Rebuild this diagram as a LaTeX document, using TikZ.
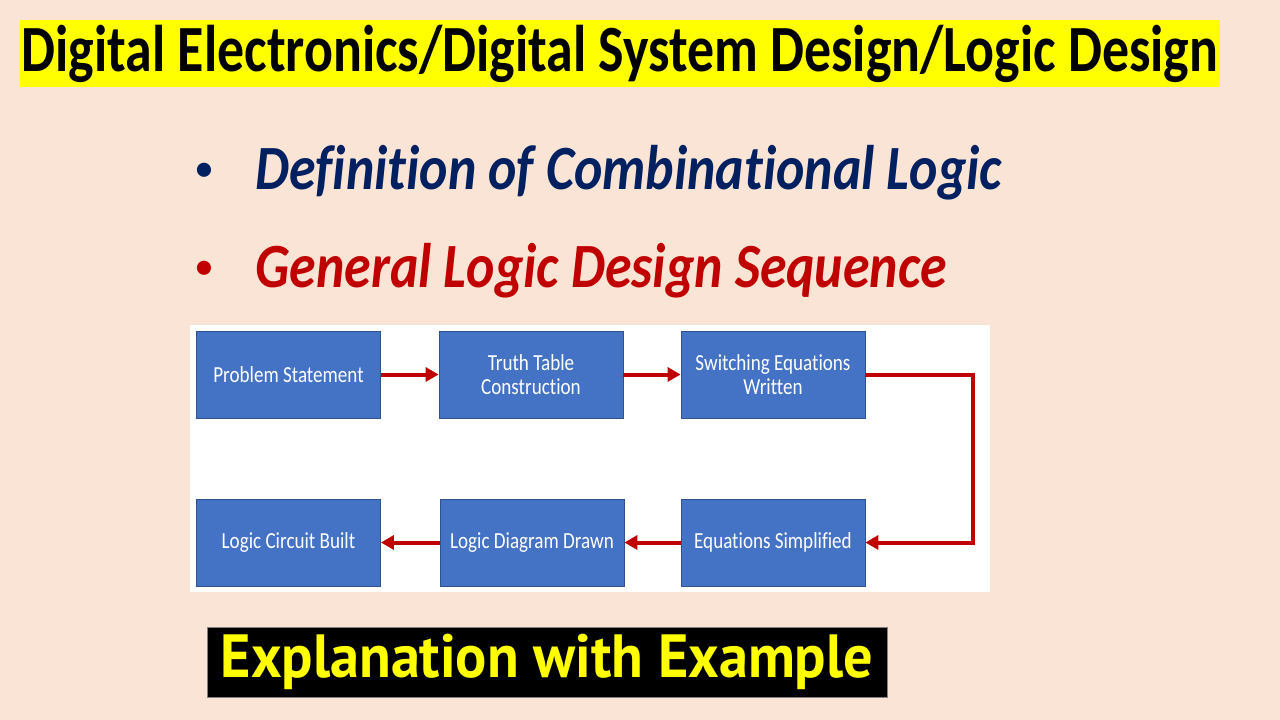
\documentclass[tikz,border=0pt]{standalone}
\usepackage{fontspec}
\setmainfont{Carlito}
\newfontfamily\stagefont[FakeStretch=0.83,Ligatures=NoCommon]{Carlito}
\newfontfamily\headfont[FakeStretch=0.816,Ligatures=NoCommon]{Carlito}
\newfontfamily\pointfont[FakeStretch=0.855,Ligatures=NoCommon]{Carlito}
\newfontfamily\bannerfont[FakeStretch=0.955]{PT Sans}
\usetikzlibrary{arrows.meta,positioning}
\definecolor{pagebg}{RGB}{250,228,214}
\definecolor{titleyellow}{RGB}{255,255,0}
\definecolor{navytext}{RGB}{0,32,96}
\definecolor{redtext}{RGB}{192,0,0}
\definecolor{stageblue}{RGB}{68,114,196}
\definecolor{stageedge}{RGB}{47,82,143}
\definecolor{flowred}{RGB}{192,0,0}
\begin{document}
\begin{tikzpicture}[x=1pt,y=-1pt,
  stage/.style={draw=stageedge,line width=0.8pt,fill=stageblue,text=white,
    minimum width=184pt,minimum height=87pt,inner sep=0pt,align=center,
    font=\stagefont\fontsize{23}{24}\selectfont},
  flow/.style={draw=flowred,line width=4pt,-{Triangle[length=13pt,width=14pt]}},
  bullet/.style={anchor=base west,font=\pointfont\bfseries\itshape\fontsize{63}{70}\selectfont}]
  % page and its margins
  \fill[pagebg] (0,0) rectangle (1280,720);
  \useasboundingbox (0,0) rectangle (1280,720);

  % heading band
  \node (title) [fill=titleyellow,minimum width=1200pt,minimum height=67pt,inner sep=0pt,
    font=\headfont\bfseries\fontsize{66}{70}\selectfont] at (620,53.5)
    {Digital Electronics/Digital System Design/Logic Design};

  % the two points
  \node (dotA) [text=navytext,font=\fontsize{40}{40}\selectfont] at (204,172) {•};
  \node (pointA) [bullet,text=navytext] at (252,189) {Definition of Combinational Logic};
  \node (dotB) [text=redtext,font=\fontsize{40}{40}\selectfont] at (204,270) {•};
  \node (pointB) [bullet,text=redtext] at (252,287) {General Logic Design Sequence};

  % flow chart on its white panel
  \fill[white] (190,325) rectangle (990,592);
  \node (s1) [stage] at (288.5,374.5) {Problem Statement};
  \node (s2) [stage] at (531,374.5) {Truth Table\\Construction};
  \node (s3) [stage] at (773,374.5) {Switching Equations\\Written};
  \node (s4) [stage] at (288.5,542.5) {Logic Circuit Built};
  \node (s5) [stage] at (532,542.5) {Logic Diagram Drawn};
  \node (s6) [stage] at (773,542.5) {Equations Simplified};
  \draw[flow] (s1) -- (s2);
  \draw[flow] (s2) -- (s3);
  \draw[flow] (s3.east) -- ++(108,0) |- (s6.east);
  \draw[flow] (s6) -- (s5);
  \draw[flow] (s5) -- (s4);

  % closing banner
  \node (banner) [fill=black,draw=gray,line width=0.8pt,minimum width=680pt,minimum height=70pt,
    inner sep=0pt,text=titleyellow,font=\bannerfont\bfseries\fontsize{61}{64}\selectfont]
    at (547,662) {Explanation with Example};
\end{tikzpicture}
\end{document}
